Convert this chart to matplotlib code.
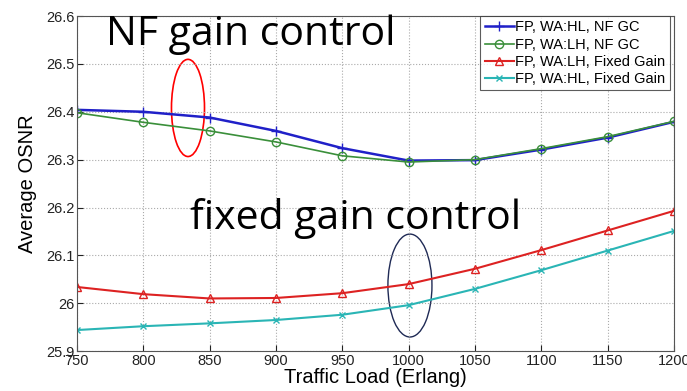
import matplotlib.pyplot as plt
from matplotlib.patches import Ellipse
from matplotlib.ticker import FuncFormatter

# data
load = [750, 800, 850, 900, 950, 1000, 1050, 1100, 1150, 1200]
hl_nf = [26.404, 26.400, 26.388, 26.360, 26.324, 26.298, 26.299, 26.321, 26.346, 26.379]
lh_nf = [26.398, 26.378, 26.360, 26.337, 26.308, 26.295, 26.300, 26.323, 26.348, 26.380]
lh_fixed = [26.034, 26.019, 26.010, 26.011, 26.021, 26.040, 26.072, 26.111, 26.152, 26.193]
hl_fixed = [25.944, 25.952, 25.958, 25.965, 25.976, 25.996, 26.030, 26.069, 26.110, 26.151]

x_ticks = [750, 800, 850, 900, 950, 1000, 1050, 1100, 1150, 1200]
y_ticks = [25.9, 26.0, 26.1, 26.2, 26.3, 26.4, 26.5, 26.6]

plt.rcParams['font.family'] = ['Liberation Sans', 'DejaVu Sans']

fig = plt.figure(figsize=(6.87, 3.91), dpi=100)
ax = fig.add_axes([0.112, 0.102, 0.869, 0.857])

ax.plot(load, hl_nf, color='#2020c8', marker='+', ms=7, lw=1.8, label='FP, WA:HL, NF GC')
ax.plot(load, lh_nf, color='#3a8f3a', marker='o', ms=6, mfc='none', lw=1.2,
        label='FP, WA:LH, NF GC')
ax.plot(load, lh_fixed, color='#dd2222', marker='^', ms=6, mfc='none', lw=1.5,
        label='FP, WA:LH, Fixed Gain')
ax.plot(load, hl_fixed, color='#2ab5b5', marker='x', ms=5, lw=1.5,
        label='FP, WA:HL, Fixed Gain')

ax.set_xlim(750, 1200)
ax.set_ylim(25.9, 26.6)
ax.set_xticks(x_ticks)
ax.set_yticks(y_ticks)
ax.yaxis.set_major_formatter(FuncFormatter(lambda v, p: '%g' % round(v, 1)))
ax.tick_params(direction='in', labelsize=10.5, colors='#222222', length=4, pad=2)
ax.grid(True, linestyle=':', color='#aaaaaa', lw=0.8)
for s in ax.spines.values():
    s.set_color('#555555')

ax.set_xlabel('Traffic Load (Erlang)', fontsize=14.5, labelpad=0)
ax.set_ylabel('Average OSNR', fontsize=14.5, labelpad=6)

leg = ax.legend(loc='upper right', fontsize=10.5, borderaxespad=0.0, handlelength=2.0,
                handletextpad=0.1, labelspacing=0.22, fancybox=False, borderpad=0.3,
                bbox_to_anchor=(0.993, 1.0))
leg.get_frame().set_edgecolor('#333333')
leg.get_frame().set_linewidth(0.8)

# annotations
ax.text(772, 26.539, 'NF gain control', family=['Open Sans', 'DejaVu Sans'], fontsize=29.5,
        color='black', va='baseline')
ax.text(835, 26.155, 'fixed gain control', family=['Open Sans', 'DejaVu Sans'], fontsize=29.5,
        color='black', va='baseline')
ax.add_patch(Ellipse((833.7, 26.408), 24.9, 0.203, fill=False, ec='red', lw=1.2))
ax.add_patch(Ellipse((1001, 26.037), 33.2, 0.215, fill=False, ec='#1f2a55', lw=1.0))

fig.savefig('out.png', dpi=100)
